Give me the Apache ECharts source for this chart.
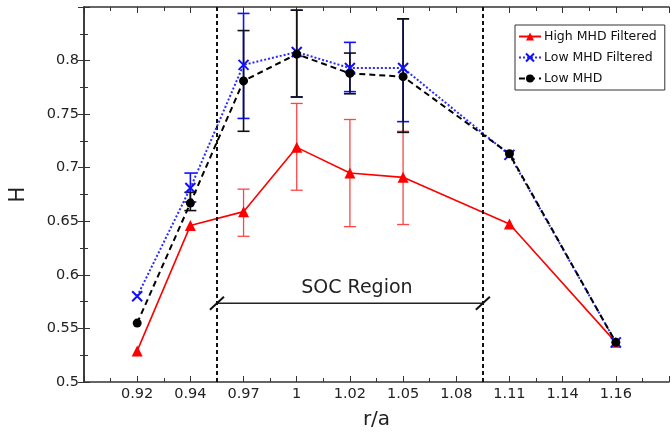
<!DOCTYPE html>
<html>
<head>
<meta charset="utf-8">
<script src="https://cdn.jsdelivr.net/npm/echarts@6/dist/echarts.min.js"></script>
<style>
html,body{margin:0;padding:0;background:#fff;}
#chart{width:672px;height:435px;}
</style>
</head>
<body>
<div id="chart"></div>
<script>
// x tick labels (r/a), evenly spaced categories
const categories = ['0.92','0.94','0.97','1','1.02','1.05','1.08','1.11','1.14','1.16'];
// High MHD Filtered
const highMHD   = [0.529, 0.646, 0.659, 0.719, 0.695, 0.691, null, 0.6475, null, 0.537];
const highErrLo = [null,  null,  0.636, 0.679, 0.645, 0.647, null, null,   null, null];
const highErrHi = [null,  null,  0.680, 0.760, 0.745, 0.734, null, null,   null, null];
// Low MHD Filtered
const lowFilt   = [0.580, 0.681, 0.796, 0.808, 0.793, 0.793, null, 0.712, null, 0.537];
const lowFiltLo = [null,  0.668, 0.746, 0.766, 0.771, 0.743, null, null,  null, null];
const lowFiltHi = [null,  0.695, 0.844, 0.847, 0.817, 0.839, null, null,  null, null];
// Low MHD
const lowMHD    = [0.555, 0.667, 0.781, 0.806, 0.788, 0.785, null, 0.713, null, 0.537];
const lowErrLo  = [null,  0.660, 0.734, 0.766, 0.769, 0.733, null, null,  null, null];
const lowErrHi  = [null,  0.677, 0.828, 0.847, 0.807, 0.839, null, null,  null, null];
// y tick values
const yTicks = [0.5, 0.55, 0.6, 0.65, 0.7, 0.75, 0.8];
// SOC region boundaries (positions between categories) and annotation level
const socBounds = [2.5, 7.5];
const socLevel = 0.5735;
const socLabel = 'SOC Region';

const FONT = 'DejaVu Sans';

function pts(arr){ return arr.map((v,i)=>[i+1, v]); }
function errs(lo, hi){
  const out = [];
  lo.forEach((v,i)=>{ if(v!=null && hi[i]!=null) out.push([i+1, v, hi[i]]); });
  return out;
}
function errSeries(name, data, color, width, cap){
  return {
    name: name, type: 'custom', data: data, z: 3,
    encode: {x: 0, y: [1,2]},
    renderItem: function(params, api){
      const x = api.value(0);
      const a = api.coord([x, api.value(1)]);
      const b = api.coord([x, api.value(2)]);
      const st = {stroke: color, lineWidth: width};
      return {type:'group', children:[
        {type:'line', shape:{x1:a[0], y1:a[1], x2:b[0], y2:b[1]}, style: st},
        {type:'line', shape:{x1:a[0]-cap, y1:a[1], x2:a[0]+cap, y2:a[1]}, style: st},
        {type:'line', shape:{x1:b[0]-cap, y1:b[1], x2:b[0]+cap, y2:b[1]}, style: st}
      ]};
    }
  };
}

const chart = echarts.init(document.getElementById('chart'), null, {renderer:'canvas'});
const xFmt = v => (Number.isInteger(v) && v>=1 && v<=categories.length) ? categories[v-1] : '';
const yFmt = v => yTicks.some(t=>Math.abs(t-v)<1e-6) ? String(+v.toFixed(2)) : '';
const axisCol = '#333';

const option = {
  animation: false,
  backgroundColor: '#fff',
  textStyle: {fontFamily: FONT},
  grid: {left: 82, right: 0, top: 7, bottom: 49},
  legend: {
    orient: 'vertical', left: 515, top: 25,
    data: ['High MHD Filtered', 'Low MHD Filtered', 'Low MHD'],
    backgroundColor: '#fff', borderColor: '#333', borderWidth: 1, borderRadius: 0,
    padding: [5, 8, 5, 3], itemGap: 8, itemWidth: 22, itemHeight: 10,
    textStyle: {fontFamily: FONT, fontSize: 12.5, color: '#111', padding: [0,0,0,-2]}
  },
  xAxis: [{
    type: 'value', min: 0, max: 11, interval: 1,
    name: 'r/a', nameLocation: 'middle', nameGap: 28,
    nameTextStyle: {fontFamily: FONT, fontSize: 20, color: '#222'},
    axisLine: {lineStyle: {color: axisCol, width: 1.5}},
    axisTick: {inside: true, length: 6, lineStyle: {color: axisCol}},
    minorTick: {show: true, splitNumber: 2, length: 4, lineStyle: {color: axisCol}},
    axisLabel: {formatter: xFmt, fontFamily: FONT, fontSize: 14.5, color: '#222', margin: 5, showMinLabel: true, showMaxLabel: true},
    splitLine: {show: false}
  },{
    type: 'value', min: 0, max: 11, interval: 1, position: 'top',
    axisLine: {lineStyle: {color: axisCol, width: 1.5}},
    axisTick: {inside: true, length: 6, lineStyle: {color: axisCol}},
    minorTick: {show: true, splitNumber: 2, length: 4, lineStyle: {color: axisCol}},
    axisLabel: {show: false}, splitLine: {show: false}
  }],
  yAxis: [{
    type: 'value', min: 0.5, max: 0.85, interval: 0.05,
    name: 'H', nameLocation: 'middle', nameGap: 55, nameRotate: 90,
    nameTextStyle: {fontFamily: FONT, fontSize: 21, color: '#222'},
    axisLine: {show: true, lineStyle: {color: axisCol, width: 1.5}},
    axisTick: {show: true, inside: true, length: 6, lineStyle: {color: axisCol}},
    minorTick: {show: true, splitNumber: 2, length: 4, lineStyle: {color: axisCol}},
    axisLabel: {formatter: yFmt, fontFamily: FONT, fontSize: 14.5, color: '#222', margin: 5},
    splitLine: {show: false}
  },{
    type: 'value', min: 0.5, max: 0.85, interval: 0.05, position: 'right',
    axisLine: {show: true, lineStyle: {color: axisCol, width: 1.5}},
    axisTick: {show: true, inside: true, length: 6, lineStyle: {color: axisCol}},
    minorTick: {show: true, splitNumber: 2, length: 4, lineStyle: {color: axisCol}},
    axisLabel: {show: false}, splitLine: {show: false}
  }],
  series: [
    errSeries('errHigh', errs(highErrLo, highErrHi), '#ff4545', 1.3, 6),
    errSeries('errLowFilt', errs(lowFiltLo, lowFiltHi), '#1010ff', 1.6, 6),
    errSeries('errLow', errs(lowErrLo, lowErrHi), '#111', 1.6, 6),
    {
      name: 'High MHD Filtered', type: 'line', data: pts(highMHD), connectNulls: true, z: 4,
      symbol: 'triangle', symbolSize: 11,
      lineStyle: {color: '#ff0000', width: 1.6, type: 'solid'},
      itemStyle: {color: '#ff0000'},
      markLine: {
        silent: true, symbol: ['none','none'], label: {show: false},
        lineStyle: {color: '#111', width: 2, type: [4,3]},
        data: socBounds.map(b => ({xAxis: b}))
      }
    },
    {
      name: 'Low MHD Filtered', type: 'line', data: pts(lowFilt), connectNulls: true, z: 5,
      symbol: 'path://M0,0L10,10M10,0L0,10', symbolSize: 10,
      lineStyle: {color: '#2a2aff', width: 2, type: [2,2]},
      itemStyle: {color: '#1010ff', borderColor: '#1010ff', borderWidth: 2}
    },
    {
      name: 'Low MHD', type: 'line', data: pts(lowMHD), connectNulls: true, z: 6,
      symbol: 'circle', symbolSize: 9,
      lineStyle: {color: '#000', width: 2, type: [6,4]},
      itemStyle: {color: '#000'}
    },
    {
      name: 'soc', type: 'custom', z: 2, silent: true,
      data: [[socBounds[0], socBounds[1], socLevel]],
      encode: {x: [0,1], y: 2},
      renderItem: function(params, api){
        const a = api.coord([api.value(0), api.value(2)]);
        const b = api.coord([api.value(1), api.value(2)]);
        const st = {stroke: '#222', lineWidth: 1.5};
        const sl = {stroke: '#111', lineWidth: 2};
        return {type:'group', children:[
          {type:'line', shape:{x1:a[0], y1:a[1], x2:b[0], y2:b[1]}, style: st},
          {type:'line', shape:{x1:a[0]-7, y1:a[1]+6.5, x2:a[0]+7, y2:a[1]-6.5}, style: sl},
          {type:'line', shape:{x1:b[0]-7, y1:b[1]+6.5, x2:b[0]+7, y2:b[1]-6.5}, style: sl},
          {type:'text', x:(a[0]+b[0])/2 + 7, y:a[1]-15,
           style:{text: socLabel, font: '19px "DejaVu Sans"', fill:'#222', align:'center', verticalAlign:'middle'}}
        ]};
      }
    }
  ]
};
chart.setOption(option);
</script>
</body>
</html>
